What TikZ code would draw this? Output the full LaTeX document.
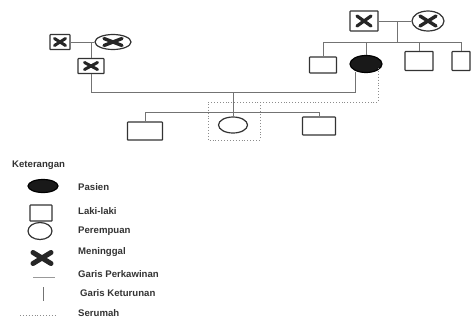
\documentclass[tikz,border=0pt]{standalone}
\usepackage{fontspec}
\setmainfont{Liberation Sans}
\usetikzlibrary{shapes.geometric}
\begin{document}
\begin{tikzpicture}[x=1pt,y=-1pt,
  sym/.style={draw=black!80, line width=1.2pt, inner sep=0pt},
  male/.style={sym, rectangle, rounded corners=0.6pt},
  female/.style={sym, ellipse},
  patient/.style={sym, ellipse, fill=black!90, draw=black},
  dead/.style n args={3}{path picture={
    \draw[line width=#1, black!85, line cap=round]
      ([shift={(-#2,-#3)}]path picture bounding box.center) -- ([shift={(#2,#3)}]path picture bounding box.center)
      ([shift={(-#2,#3)}]path picture bounding box.center) -- ([shift={(#2,-#3)}]path picture bounding box.center);}},
  link/.style={draw=black!55, line width=1pt},
  house/.style={draw=black!45, line width=0.9pt, dotted},
  lbl/.style={anchor=west, inner sep=0pt, font=\fontsize{9.6}{10}\selectfont\bfseries, text=black!80}
]
\useasboundingbox (0,0) rectangle (471,322);

% ---- left grandparents
\node[male, dead={3pt}{5.5pt}{3.5pt}, minimum width=20pt, minimum height=15pt] (lgf) at (60,42) {};
\node[female, dead={3.4pt}{9pt}{3.5pt}, minimum width=36pt, minimum height=15pt] (lgm) at (113,42) {};
\node[male, dead={3pt}{6.5pt}{3.5pt}, minimum width=26pt, minimum height=15pt] (lch) at (91,66) {};
\draw[link] (lgf) -- (lgm);
\draw[link] (lch.north) -- (lch.north |- lgf.east);

% ---- right grandparents
\node[male, dead={3.2pt}{7pt}{5pt}, minimum width=28pt, minimum height=20pt] (rgf) at (364,21) {};
\node[female, dead={3.4pt}{8pt}{5pt}, minimum width=32pt, minimum height=20pt] (rgm) at (428,21) {};
\draw[link] (rgf) -- (rgm);
\coordinate (rmid) at (397,21);
\coordinate (rsib) at (397,42);
\draw[link] (rmid) -- (rsib);

% ---- second generation (right side)
\node[male, minimum width=27pt, minimum height=16pt] (s1) at (323,65) {};
\node[patient, minimum width=32pt, minimum height=17pt] (pat) at (366,64) {};
\node[male, minimum width=28pt, minimum height=19pt] (s3) at (419,61) {};
\node[male, minimum width=18pt, minimum height=19pt] (s4) at (461,61) {};
\draw[link] (s1.north |- rsib) -- (s4.north |- rsib);
\foreach \n in {s1,pat,s3,s4} \draw[link] (\n.north) -- (\n.north |- rsib);

% ---- marriage of lch and patient
\coordinate (mL) at (91,92);
\coordinate (mR) at (355,92);
\coordinate (mC) at (233,92);
\draw[link] (lch.south) -- (mL) -- (mR) -- (355,71.5);

% ---- third generation
\coordinate (sib) at (233,112);
\node[male, minimum width=35pt, minimum height=18pt] (c1) at (145,131) {};
\node[female, minimum width=29pt, minimum height=16pt] (c2) at (233,125) {};
\node[male, minimum width=33pt, minimum height=18pt] (c3) at (319,126) {};
\draw[link] (mC) -- (c2.north);
\draw[link] (c1.north |- sib) -- (c3.north |- sib);
\draw[link] (c1.north) -- (c1.north |- sib);
\draw[link] (c3.north) -- (c3.north |- sib);

% ---- household boundary
\draw[house] (378,68) -- (378,102) -- (208,102) -- (208,140) -- (260,140) -- (260,104);

% ---- legend
\node[lbl] (kt) at (12,165) {Keterangan};
\node[patient, minimum width=30pt, minimum height=13pt] (lp) at (43,186) {};
\node[male, minimum width=22pt, minimum height=16pt] (lm) at (41,213) {};
\node[female, minimum width=24pt, minimum height=17pt] (lf) at (40,231) {};
\node[dead={5pt}{9pt}{5.5pt}, minimum width=25pt, minimum height=17pt, inner sep=0pt] (ld) at (42,258) {};
\coordinate (lmA) at (33,277);
\coordinate (lmB) at (55,277);
\draw[draw=black!40, line width=1pt] (lmA) -- (lmB);
\coordinate (lkA) at (43,287);
\coordinate (lkB) at (43,301);
\draw[link] (lkA) -- (lkB);
\coordinate (lsA) at (20,315);
\coordinate (lsB) at (56,315);
\draw[house] (lsA) -- (lsB);

\node[lbl] (t1) at (78,187) {Pasien};
\node[lbl] (t2) at (78,211) {Laki-laki};
\node[lbl] (t3) at (78,231) {Perempuan};
\node[lbl] (t4) at (78,252) {Meninggal};
\node[lbl] (t5) at (78,274) {Garis Perkawinan};
\node[lbl] (t6) at (80,293) {Garis Keturunan};
\node[lbl] (t7) at (78,313) {Serumah};
\end{tikzpicture}
\end{document}
